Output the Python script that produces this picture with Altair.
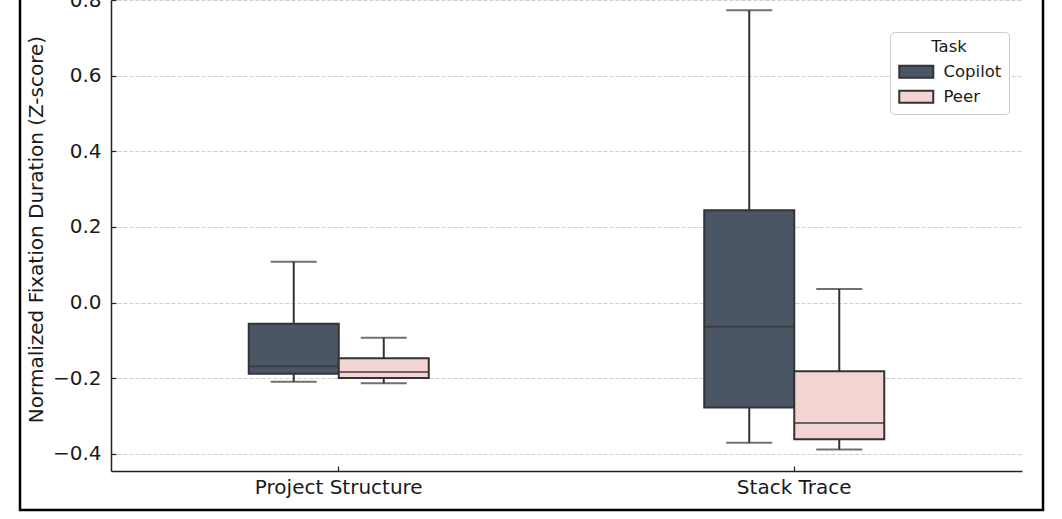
import altair as alt
import pandas as pd

categories = ["Project Structure", "Project Structure", "Stack Trace", "Stack Trace"]
tasks = ["Copilot", "Peer", "Copilot", "Peer"]
whisker_low = [-0.209, -0.213, -0.370, -0.388]
q1 = [-0.188, -0.199, -0.277, -0.361]
median = [-0.168, -0.183, -0.064, -0.318]
q3 = [-0.056, -0.147, 0.244, -0.181]
whisker_high = [0.108, -0.0925, 0.773, 0.036]

task_order = ["Copilot", "Peer"]
task_colors = ["#4b5664", "#f2d5d2"]
cat_order = ["Project Structure", "Stack Trace"]
y_ticks = [-0.4, -0.2, 0.0, 0.2, 0.4, 0.6, 0.8]

df = pd.DataFrame({
    "Category": categories, "Task": tasks, "lo": whisker_low, "q1": q1,
    "med": median, "q3": q3, "hi": whisker_high,
})

FONT = "DejaVu Sans"
EDGE = "#333333"
FS = 20

x_scale = alt.Scale(paddingInner=0.6048, paddingOuter=0.3024)
x_axis_main = alt.Axis(title=None, orient="bottom", labelAngle=0, ticks=False, grid=False,
                       domainColor="#222222", domainWidth=1.5,
                       labelFontSize=FS, labelColor="#1a1a1a", labelPadding=6)
x_axis_ticks = alt.Axis(title=None, orient="bottom", labels=False, domain=False, grid=False,
                        ticks=True, tickSize=5, tickColor="#222222", tickWidth=1.2,
                        offset=-5)
xoff = alt.XOffset("Task:N", sort=task_order,
                   scale=alt.Scale(domain=task_order, paddingInner=0, paddingOuter=0))
y_scale = alt.Scale(domain=[-0.445, 0.8], nice=False, zero=False)
y_axis_main = alt.Axis(title="Normalized Fixation Duration (Z-score)", orient="left",
                       values=y_ticks,
                       labelExpr="replace(format(datum.value, '.1f'), '-', '\u2212')",
                       grid=True, gridColor="#c8c8c8", gridDash=[4, 2], gridWidth=0.9,
                       ticks=False, domainColor="#222222", domainWidth=1.5,
                       labelFontSize=FS, labelColor="#1a1a1a", labelPadding=10,
                       titleFontSize=FS, titleFontWeight="normal", titleColor="#1a1a1a",
                       titlePadding=6, titleY=229)
y_axis_ticks = alt.Axis(title=None, orient="left", values=y_ticks, labels=False,
                        domain=False, grid=False,
                        ticks=True, tickSize=5, tickColor="#222222", tickWidth=1.2,
                        offset=-5)

base = alt.Chart(df)

whiskers = base.mark_rule(color=EDGE, strokeWidth=2).encode(
    x=alt.X("Category:N", sort=cat_order, scale=x_scale, axis=x_axis_main),
    xOffset=xoff,
    y=alt.Y("lo:Q", scale=y_scale, axis=y_axis_main), y2="hi:Q")

boxes = base.mark_bar(stroke=EDGE, strokeWidth=2).encode(
    x=alt.X("Category:N", sort=cat_order, scale=x_scale, axis=x_axis_ticks),
    xOffset=xoff,
    y=alt.Y("q1:Q", scale=y_scale, axis=y_axis_ticks), y2="q3:Q",
    fill=alt.Fill("Task:N", sort=task_order,
                  scale=alt.Scale(domain=task_order, range=task_colors),
                  legend=alt.Legend(title="Task", orient="none", legendX=779, legendY=32,
                                    titleAnchor="middle", titleFontSize=16.5,
                                    titleFontWeight="normal", titleColor="#1a1a1a",
                                    labelFontSize=16.5, labelColor="#1a1a1a",
                                    symbolType="M-1,-1H4.67V1H-1Z", symbolSize=144,
                                    symbolStrokeColor=EDGE, symbolStrokeWidth=2,
                                    labelOffset=30, rowPadding=4, padding=7,
                                    strokeColor="#cccccc", fillColor="white",
                                    cornerRadius=4, titlePadding=8)))

medians = base.mark_tick(color=EDGE, thickness=2, size=90).encode(
    x=alt.X("Category:N", sort=cat_order, scale=x_scale, axis=None),
    xOffset=xoff, y=alt.Y("med:Q", scale=y_scale, axis=None))

caps_lo = base.mark_tick(color=EDGE, thickness=2, size=46).encode(
    x=alt.X("Category:N", sort=cat_order, scale=x_scale, axis=None),
    xOffset=xoff, y=alt.Y("lo:Q", scale=y_scale, axis=None))
caps_hi = base.mark_tick(color=EDGE, thickness=2, size=46).encode(
    x=alt.X("Category:N", sort=cat_order, scale=x_scale, axis=None),
    xOffset=xoff, y=alt.Y("hi:Q", scale=y_scale, axis=None))

frame = alt.Chart(alt.Data(values=[{"a": 1}])).mark_rect(
    fill="transparent", stroke="black", strokeWidth=2.5).encode(
    x=alt.value(-91), x2=alt.value(932), y=alt.value(-20), y2=alt.value(510))

chart = alt.layer(whiskers, boxes, medians, caps_lo, caps_hi, frame).resolve_axis(
    x="independent", y="independent"
).properties(
    width=911, height=471,
    autosize=alt.AutoSizeParams(type="none"),
    padding={"left": 111, "top": 0, "right": 40, "bottom": 48},
    background="white",
).configure(font=FONT).configure_view(strokeWidth=0)

chart.save("out.html", embed_options={"renderer": "svg", "actions": False})
